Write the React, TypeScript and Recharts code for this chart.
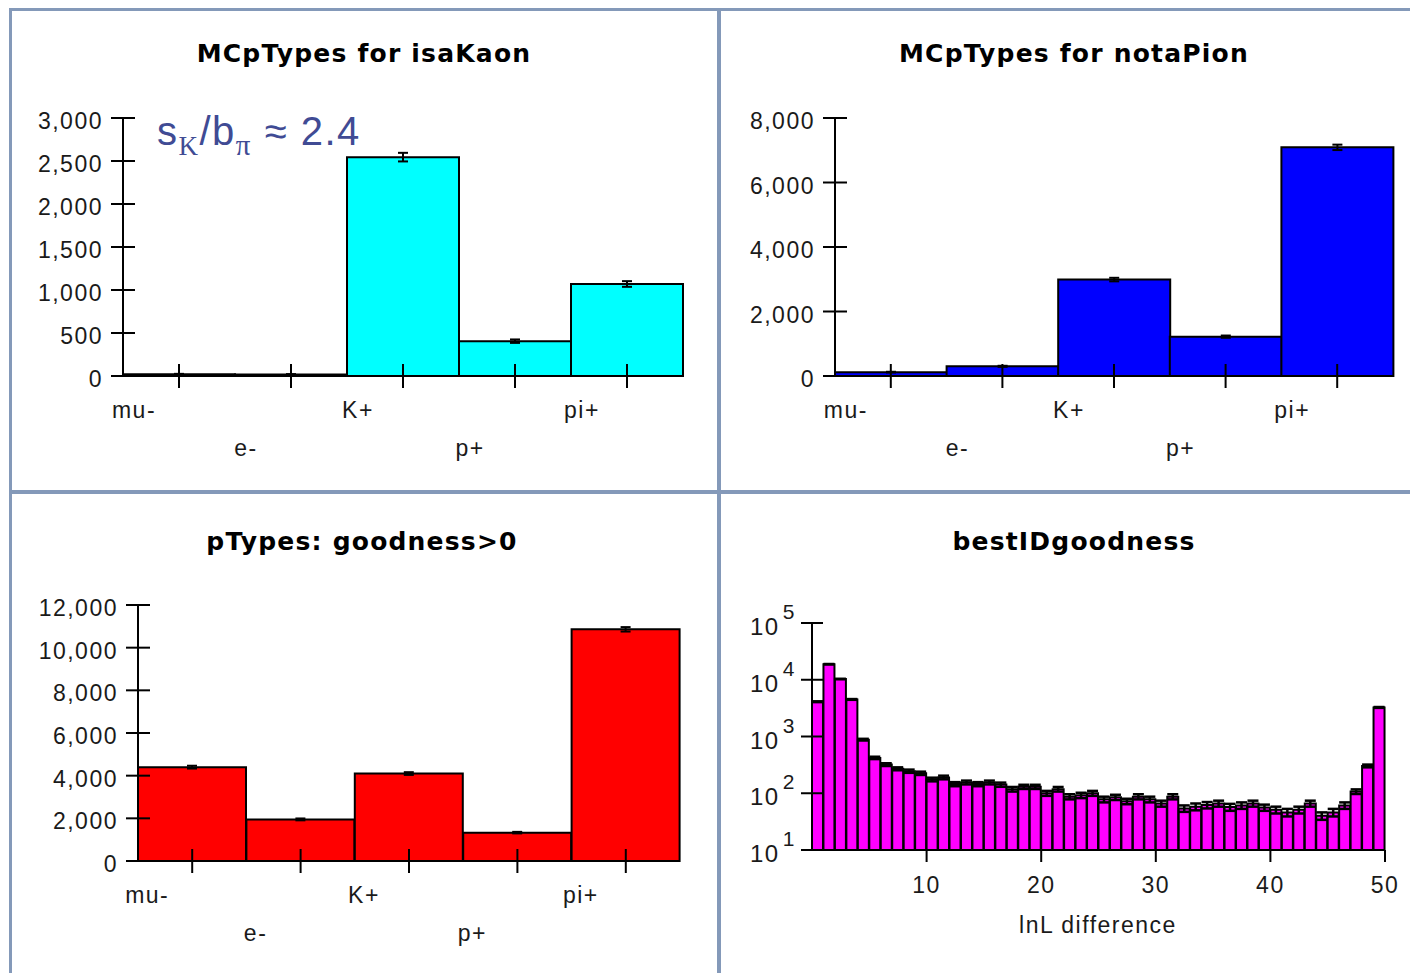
import React from "react";
import { BarChart, Bar, XAxis, YAxis, ErrorBar } from "recharts";

// particle type categories shared by the three upper/left histograms
const particles = ["mu-", "e-", "K+", "p+", "pi+"];

const isaKaonCounts = [20, 18, 2545, 405, 1070];
const isaKaonErrors = [5, 4, 50, 20, 33];
const isaKaonTicks = [0, 500, 1000, 1500, 2000, 2500, 3000];

const notaPionCounts = [120, 300, 2990, 1220, 7090];
const notaPionErrors = [11, 17, 55, 35, 84];
const notaPionTicks = [0, 2000, 4000, 6000, 8000];

const goodnessCounts = [4400, 1950, 4100, 1330, 10860];
const goodnessErrors = [66, 44, 64, 36, 104];
const goodnessTicks = [0, 2000, 4000, 6000, 8000, 10000, 12000];

// bestIDgoodness: 50 unit bins of lnL difference, 0..50
const lnlCounts = [
  4100, 18800, 10300, 4500, 880, 420, 320, 270, 245, 225,
  175, 190, 145, 155, 145, 155, 142, 118, 130, 130,
  100, 118, 87, 92, 100, 78, 85, 72, 87, 78,
  66, 87, 54, 58, 62, 66, 57, 61, 66, 56,
  51, 46, 51, 66, 40, 46, 61, 107, 303, 3250,
];
const lnlErrors = [
  64, 137, 101, 67, 30, 20, 18, 16, 16, 15,
  13, 14, 12, 12, 12, 12, 12, 11, 11, 11,
  10, 11, 9, 10, 10, 9, 9, 8, 9, 9,
  8, 9, 7, 8, 8, 8, 8, 8, 8, 7,
  7, 7, 7, 8, 6, 7, 8, 10, 17, 57,
];
const lnlTicks = [10, 100, 1000, 10000, 100000];
const lnlLabelEvery = 10;

const tickFont = {
  fontFamily: "'Liberation Sans', Arial, sans-serif",
  fontSize: 23,
  letterSpacing: 1.5,
  fill: "#1a1a1a",
};

const YTick = (props: any) => {
  const { x, y, payload } = props;
  return (
    <g>
      <line x1={x - 12} x2={x + 12} y1={y} y2={y} stroke="#000" strokeWidth={2} />
      <text x={x - 20} y={y + 11} textAnchor="end" {...tickFont}>
        {Number(payload.value).toLocaleString("en-US")}
      </text>
    </g>
  );
};

const CatTick = (props: any) => {
  const { x, y, payload, index } = props;
  const lower = index % 2 === 1;
  return (
    <g>
      <line x1={x} x2={x} y1={y - 12} y2={y + 12} stroke="#000" strokeWidth={2} />
      <text x={x - 45} y={y + (lower ? 80 : 42)} textAnchor="middle" {...tickFont}>
        {payload.value}
      </text>
    </g>
  );
};

const LogTick = (props: any) => {
  const { x, y, payload } = props;
  const exp = Math.round(Math.log10(payload.value));
  return (
    <g>
      <line x1={x - 11} x2={x + 11} y1={y} y2={y} stroke="#000" strokeWidth={2} />
      <text x={x - 62} y={y + 12} {...tickFont} fontSize={24}>
        10
        <tspan dx={3} dy={-16} fontSize={21}>
          {exp}
        </tspan>
      </text>
    </g>
  );
};

type Box = { px: number; py: number; pw: number; ph: number; x0: number; x1: number; y0: number; y1: number };

const AXW = 10;

const margins = (b: Box) => ({
  top: b.y0 - b.py,
  left: b.x0 - b.px - AXW,
  right: b.px + b.pw - b.x1,
  bottom: b.py + b.ph - b.y1 - AXW,
});

const CategoryPanel = (props: {
  box: Box;
  counts: number[];
  errors: number[];
  ticks: number[];
  color: string;
}) => {
  const { box, counts, errors, ticks, color } = props;
  const data = particles.map((name, i) => ({ name, count: counts[i], err: errors[i] }));
  return (
    <div style={{ position: "absolute", left: box.px, top: box.py }}>
      <BarChart
        width={box.pw}
        height={box.ph}
        data={data}
        margin={margins(box)}
        barCategoryGap={0}
        barGap={0}
      >
        <Bar dataKey="count" fill={color} stroke="#000" strokeWidth={2} isAnimationActive={false}>
          <ErrorBar dataKey="err" width={5} stroke="#000" strokeWidth={2} direction="y" isAnimationActive={false} />
        </Bar>
        <XAxis
          dataKey="name"
          height={AXW}
          interval={0}
          tickSize={0}
          tickMargin={0}
          tickLine={false}
          axisLine={{ stroke: "#000", strokeWidth: 2 }}
          tick={CatTick}
        />
        <YAxis
          type="number"
          width={AXW}
          domain={[ticks[0], ticks[ticks.length - 1]]}
          ticks={ticks}
          interval={0}
          tickSize={0}
          tickMargin={0}
          tickLine={false}
          axisLine={{ stroke: "#000", strokeWidth: 2 }}
          tick={YTick}
        />
      </BarChart>
    </div>
  );
};

const LogPanel = (props: { box: Box }) => {
  const { box } = props;
  const data = lnlCounts.map((count, i) => ({ bin: i, count, err: lnlErrors[i] }));
  const half = (box.x1 - box.x0) / lnlCounts.length / 2;
  const BinTick = (p: any) => {
    const { x, y, index } = p;
    if ((index + 1) % lnlLabelEvery !== 0) return null;
    return (
      <g>
        <line x1={x + half} x2={x + half} y1={y} y2={y + 12} stroke="#000" strokeWidth={2} />
        <text x={x + half} y={y + 43} textAnchor="middle" {...tickFont}>
          {index + 1}
        </text>
      </g>
    );
  };
  return (
    <div style={{ position: "absolute", left: box.px, top: box.py }}>
      <BarChart
        width={box.pw}
        height={box.ph}
        data={data}
        margin={margins(box)}
        barCategoryGap={0}
        barGap={0}
      >
        <Bar dataKey="count" fill="#ff00ff" stroke="#000" strokeWidth={2} isAnimationActive={false}>
          <ErrorBar dataKey="err" width={5.5} stroke="#000" strokeWidth={2.5} direction="y" isAnimationActive={false} />
        </Bar>
        <XAxis
          dataKey="bin"
          height={AXW}
          interval={0}
          tickSize={0}
          tickMargin={0}
          tickLine={false}
          axisLine={{ stroke: "#000", strokeWidth: 2 }}
          tick={BinTick}
        />
        <YAxis
          type="number"
          scale="log"
          width={AXW}
          domain={[10, 100000]}
          allowDataOverflow
          ticks={lnlTicks}
          interval={0}
          tickSize={0}
          tickMargin={0}
          tickLine={false}
          axisLine={{ stroke: "#000", strokeWidth: 2 }}
          tick={LogTick}
        />
      </BarChart>
    </div>
  );
};

const frame = "#8499b9";

const titleStyle = {
  fontFamily: "'DejaVu Sans', sans-serif",
  fontWeight: 700,
  fontSize: 25,
  letterSpacing: 1.2,
  fill: "#000",
};

export default function App() {
  return (
    <div
      style={{
        position: "absolute",
        left: 0,
        top: 0,
        width: 1410,
        height: 973,
        background: "#fff",
        overflow: "hidden",
      }}
    >
      <CategoryPanel
        box={{ px: 12, py: 12, pw: 705, ph: 478, x0: 123, x1: 683, y0: 118, y1: 376 }}
        counts={isaKaonCounts}
        errors={isaKaonErrors}
        ticks={isaKaonTicks}
        color="#00ffff"
      />
      <CategoryPanel
        box={{ px: 721, py: 12, pw: 689, ph: 478, x0: 835, x1: 1393, y0: 118, y1: 376 }}
        counts={notaPionCounts}
        errors={notaPionErrors}
        ticks={notaPionTicks}
        color="#0000ff"
      />
      <CategoryPanel
        box={{ px: 12, py: 494, pw: 705, ph: 479, x0: 138, x1: 680, y0: 605, y1: 861 }}
        counts={goodnessCounts}
        errors={goodnessErrors}
        ticks={goodnessTicks}
        color="#ff0000"
      />
      <LogPanel box={{ px: 721, py: 494, pw: 689, ph: 479, x0: 812, x1: 1385, y0: 623, y1: 850 }} />

      <svg
        width={1410}
        height={973}
        style={{ position: "absolute", left: 0, top: 0, pointerEvents: "none" }}
      >
        <text x={364} y={62} textAnchor="middle" {...titleStyle}>MCpTypes for isaKaon</text>
        <text x={1074} y={62} textAnchor="middle" {...titleStyle}>MCpTypes for notaPion</text>
        <text x={362} y={550} textAnchor="middle" {...titleStyle}>pTypes: goodness&gt;0</text>
        <text x={1074} y={550} textAnchor="middle" {...titleStyle}>bestIDgoodness</text>
        <text x={1098} y={933} textAnchor="middle" {...tickFont}>lnL difference</text>
        <text
          x={157}
          y={145}
          fill="#404b94"
          fontFamily="'Liberation Sans', Arial, sans-serif"
          fontSize={40}
          letterSpacing={1.5}
        >
          s
          <tspan fontFamily="'Liberation Serif', serif" fontSize={27} dy={10}>K</tspan>
          <tspan dy={-10}>/b</tspan>
          <tspan fontFamily="'Liberation Serif', serif" fontSize={29} dy={10}>π</tspan>
          <tspan dy={-10}> ≈ 2.4</tspan>
        </text>
      </svg>

      {/* window frame */}
      <div style={{ position: "absolute", left: 9, top: 8, width: 1401, height: 3, background: frame }} />
      <div style={{ position: "absolute", left: 9, top: 8, width: 3, height: 965, background: frame }} />
      <div style={{ position: "absolute", left: 717, top: 8, width: 4, height: 965, background: frame }} />
      <div style={{ position: "absolute", left: 9, top: 490, width: 1401, height: 4, background: frame }} />
    </div>
  );
}
